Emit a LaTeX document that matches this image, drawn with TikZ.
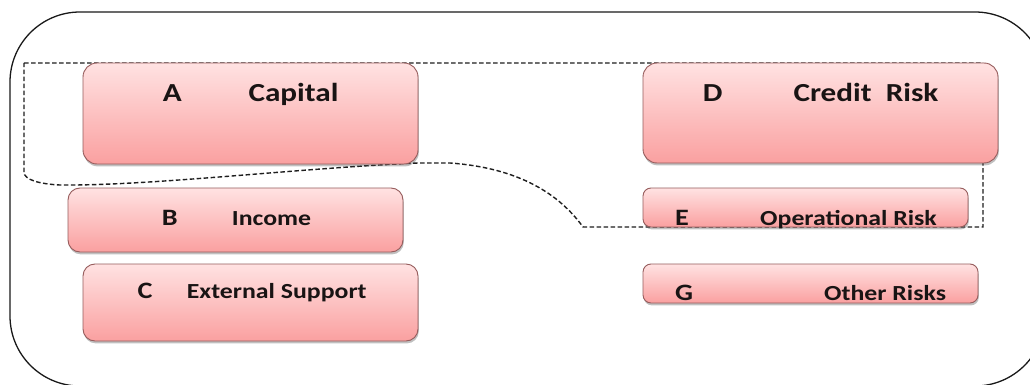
\documentclass[tikz,border=0pt]{standalone}
\usepackage{fontspec}
\newfontfamily\cb{Carlito}[FakeStretch=1.2]
\usetikzlibrary{shadows}
\definecolor{pinktop}{RGB}{255,226,226}
\definecolor{pinkbot}{RGB}{250,160,160}
\definecolor{boxborder}{RGB}{150,92,92}
\definecolor{dashcol}{RGB}{30,30,30}
\definecolor{txtcol}{RGB}{25,20,20}
\tikzset{
  pinkbox/.style={draw=boxborder, line width=0.9pt, rounded corners=#1,
    top color=pinktop, bottom color=pinkbot,
    drop shadow={shadow xshift=0.8pt, shadow yshift=-2.4pt, opacity=0.35, fill=black!70},
    inner sep=0pt},
  biglbl/.style={inner sep=0pt, anchor=base west, text=txtcol,
    font=\cb\bfseries\fontsize{26}{30}\selectfont},
  letlbl/.style={inner sep=0pt, anchor=base west, text=txtcol,
    font=\cb\bfseries\fontsize{23.5}{27}\selectfont},
  smalllbl/.style={inner sep=0pt, anchor=base west, text=txtcol,
    font=\cb\bfseries\fontsize{21.5}{25}\selectfont},
  dashpath/.style={draw=dashcol, line width=1.4pt, dash pattern=on 4.5pt off 2.5pt},
  frame/.style={draw=black!90, line width=1.3pt, rounded corners=70pt}
}
\begin{document}
\begin{tikzpicture}[x=1pt,y=-1pt]
\useasboundingbox (0,0) rectangle (1030,385);
\clip (0,0) rectangle (1030,385);
\fill[white] (0,0) rectangle (1030,385);
% outer frame
\draw[frame] (10,12) rectangle (1045,386);
% dashed grouping outline
\draw[dashpath] (24,63) -- (983,63) -- (983,227) -- (583,227)
  .. controls (560,195) and (520,168) .. (450,163) -- (418,163)
  .. controls (300,168) and (150,186) .. (60,185)
  .. controls (40,184) and (24,180) .. (24,172) -- cycle;
% boxes
\node[pinkbox=14pt, minimum width=335pt, minimum height=101pt] (A) at (250.5,113.5) {};
\node[pinkbox=12pt, minimum width=335pt, minimum height=64pt] (B) at (235.5,220) {};
\node[pinkbox=12pt, minimum width=335pt, minimum height=77pt] (C) at (250.5,302.5) {};
\node[pinkbox=14pt, minimum width=355pt, minimum height=100pt] (D) at (820.5,113) {};
\node[pinkbox=8pt, minimum width=325pt, minimum height=39pt] (E) at (805.5,207.5) {};
\node[pinkbox=8pt, minimum width=335pt, minimum height=39pt] (G) at (810.5,283.5) {};
% labels
\node[biglbl] (Al) at (162.7,101.7) {A};
\node[biglbl] (At) at (248.3,101.7) {Capital};
\node[biglbl] (Dl) at (702.7,101.7) {D};
\node[biglbl] (Dt) at (793.3,101.7) {Credit\ \ Risk};
\node[letlbl] (Bl) at (161.7,225) {B};
\node[smalllbl] (Bt) at (231.7,225) {Income};
\node[letlbl] (Cl) at (137.3,298) {C};
\node[smalllbl] (Ct) at (186.7,298) {External Support};
\node[letlbl] (El) at (675,225) {E};
\node[smalllbl] (Et) at (760,225) {Operational Risk};
\node[letlbl] (Gl) at (675,300.7) {G};
\node[smalllbl] (Gt) at (824,300.7) {Other Risks};
\end{tikzpicture}
\end{document}
